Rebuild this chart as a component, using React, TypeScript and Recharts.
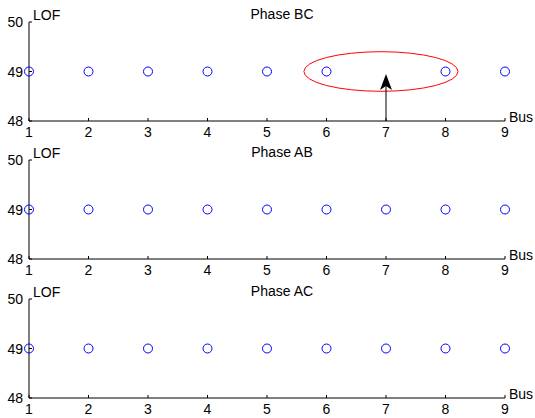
import React from 'react';
import { ScatterChart, Scatter, XAxis, YAxis, ReferenceArea, ReferenceLine } from 'recharts';

const buses = [1, 2, 3, 4, 5, 6, 7, 8, 9];
const lofBC: (number | null)[] = [49, 49, 49, 49, 49, 49, null, 49, 49];
const lofAB: (number | null)[] = [49, 49, 49, 49, 49, 49, 49, 49, 49];
const lofAC: (number | null)[] = [49, 49, 49, 49, 49, 49, 49, 49, 49];
const panelTitles = ['Phase BC', 'Phase AB', 'Phase AC'];
const panelSeries = [lofBC, lofAB, lofAC];
const yTicks = [48, 49, 50];
const xTicks = buses;
const yLabel = 'LOF';
const xLabel = 'Bus';
// highlighted region around the missing bus (panel 1)
const ellipseX = [5.62, 8.21];
const ellipseY = [48.6, 49.4];
const arrowBus = 7;
const arrowFrom = 48;
const arrowTo = 48.95;

const FONT = '"Liberation Sans", Arial, sans-serif';
const W = 535;
const H = 140;
const panelTops = [0, 138, 277];
const M = { top: 22, right: 30, bottom: 0, left: 0 };
const XH = 19;
const YW = 29;

const XTick = (p: any) => {
  const { x, y, payload } = p;
  return (
    <g>
      <line x1={x} x2={x} y1={y} y2={y - 3} stroke="#000" />
      <text x={x} y={y + 16} textAnchor="middle" fontFamily={FONT} fontSize={14} fill="#000">
        {payload.value}
      </text>
    </g>
  );
};

const YTick = (p: any) => {
  const { x, y, payload } = p;
  return (
    <g>
      <line x1={x} x2={x + 3} y1={y} y2={y} stroke="#000" />
      <text x={x - 6} y={y + 5} textAnchor="end" fontFamily={FONT} fontSize={14} fill="#000">
        {payload.value}
      </text>
    </g>
  );
};

const Circle = (p: any) => (
  <circle cx={p.cx} cy={p.cy} r={4.5} fill="none" stroke="#0000ff" strokeWidth={1} />
);

const EllipseShape = (p: any) => (
  <ellipse
    cx={p.x + p.width / 2}
    cy={p.y + p.height / 2}
    rx={p.width / 2}
    ry={p.height / 2}
    fill="none"
    stroke="#ff0000"
    strokeWidth={1}
  />
);

const ArrowShape = (p: any) => {
  const { x1, y1, x2, y2 } = p;
  const x = x2;
  return (
    <g>
      <line x1={x1} y1={y1} x2={x} y2={y2 + 10} stroke="#000" strokeWidth={1} />
      <polygon points={`${x},${y2} ${x - 6},${y2 + 16} ${x},${y2 + 12} ${x + 6},${y2 + 16}`} fill="#000" />
    </g>
  );
};

const Panel = ({ idx }: { idx: number }) => {
  const series = panelSeries[idx];
  const data = buses
    .map((b, i) => ({ bus: b, lof: series[i] }))
    .filter((d) => d.lof != null);
  return (
    <div style={{ position: 'absolute', left: 0, top: panelTops[idx], width: W, height: H }}>
      <ScatterChart width={W} height={H} margin={M}>
        <XAxis
          type="number"
          dataKey="bus"
          domain={[1, 9]}
          ticks={xTicks}
          interval={0}
          height={XH}
          tickSize={0}
          tickMargin={0}
          tickLine={false}
          axisLine={{ stroke: '#000' }}
          tick={<XTick />}
        />
        <YAxis
          type="number"
          dataKey="lof"
          domain={[48, 50]}
          ticks={yTicks}
          interval={0}
          width={YW}
          tickSize={0}
          tickMargin={0}
          tickLine={false}
          axisLine={{ stroke: '#000' }}
          tick={<YTick />}
        />
        {idx === 0 && (
          <ReferenceArea
            x1={ellipseX[0]}
            x2={ellipseX[1]}
            y1={ellipseY[0]}
            y2={ellipseY[1]}
            shape={<EllipseShape />}
          />
        )}
        {idx === 0 && (
          <ReferenceLine
            segment={[
              { x: arrowBus, y: arrowFrom },
              { x: arrowBus, y: arrowTo },
            ]}
            shape={<ArrowShape />}
          />
        )}
        <Scatter data={data} isAnimationActive={false} shape={<Circle />} />
      </ScatterChart>
      <svg width={W} height={H} style={{ position: 'absolute', left: 0, top: 0, pointerEvents: 'none' }}>
        <text x={33} y={M.top - 2} fontFamily={FONT} fontSize={14} fill="#000">
          {yLabel}
        </text>
        <text x={282} y={M.top - 3} textAnchor="middle" fontFamily={FONT} fontSize={14} fill="#000">
          {panelTitles[idx]}
        </text>
        <text x={509} y={H - XH + 1} fontFamily={FONT} fontSize={14} fill="#000">
          {xLabel}
        </text>
      </svg>
    </div>
  );
};

export default function App() {
  return (
    <div style={{ position: 'absolute', left: 0, top: 0, width: W, height: 418, background: '#fff' }}>
      <Panel idx={0} />
      <Panel idx={1} />
      <Panel idx={2} />
    </div>
  );
}
